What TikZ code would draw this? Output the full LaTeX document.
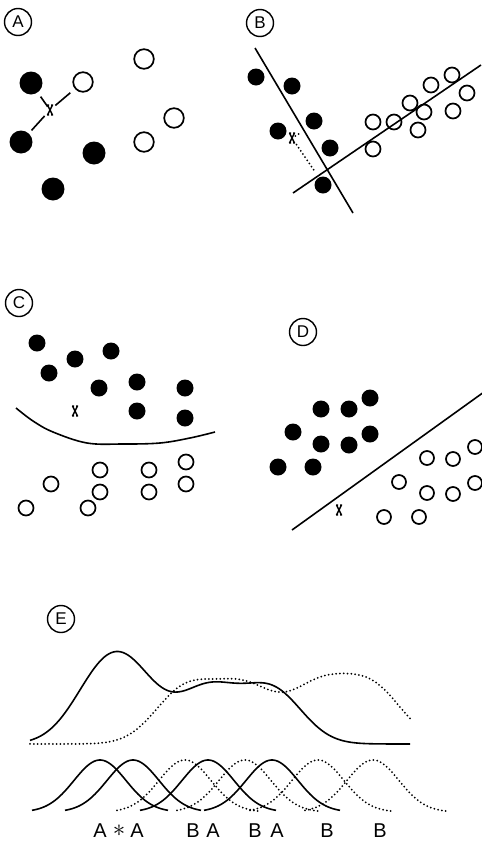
\documentclass[tikz,border=0pt]{standalone}
\usepackage{fontspec}
\setsansfont{Liberation Sans}
\usetikzlibrary{calc}
\tikzset{
  panel/.style={circle, draw, line width=1.4pt, minimum size=27pt, inner sep=0pt,
    font=\sffamily\fontsize{17}{17}\selectfont},
  full/.style={circle, fill, inner sep=0pt, minimum size=#1},
  hollow/.style={circle, draw, line width=1.7pt, inner sep=0pt, minimum size=#1},
  border/.style={line width=1.6pt},
  dotted curve/.style={line width=2pt, line cap=round, dash pattern=on 0pt off 3.8pt},
  klabel/.style={font=\sffamily\fontsize{20}{20}\selectfont, inner sep=0pt},
  testpt/.pic={
    \draw[line width=1.4pt] (-2.5,-5) -- (2.5,5) (2.5,-5) -- (-2.5,5)
      (-3,-5) -- (-1,-5) (1,-5) -- (3,-5) (-3,5) -- (-1,5) (1,5) -- (3,5);
  }
}
\begin{document}
\begin{tikzpicture}[x=1pt, y=-1pt,
  declare function={k(\u,\m)=exp(max(-9,-0.5*((\u-\m)/30)^2));
                    s(\u,\m)=exp(max(-9,-0.5*((\u-\m)/26)^2));}]
    \useasboundingbox (0,0) rectangle (482,841);

    % panel A: nearest neighbours
    \node[panel] (pa) at (18,22) {A};
    \foreach \px/\py [count=\i] in {31/83,21/142,94/153,53/189}
        \node[full=23pt] (af\i) at (\px,\py) {};
    \foreach \px/\py [count=\i] in {83/82,144/59,174/118,144/142}
        \node[hollow=19.6pt] (ah\i) at (\px,\py) {};
    \coordinate (xa) at (50,110);
    \pic at (xa) {testpt};
    \draw[border, shorten <=5pt, shorten >=4pt] (af1) -- (xa);
    \draw[border, shorten <=6pt, shorten >=7pt] (ah1) -- (xa);
    \draw[border, shorten <=4pt, shorten >=8pt] (af2) -- (xa);

    % panel B: two fitted lines
    \node[panel] (pb) at (260,23) {B};
    \foreach \px/\py [count=\i] in {256/77,292/86,314/121,278/131,330/148,323/185}
        \node[full=17pt] (bf\i) at (\px,\py) {};
    \foreach \px/\py [count=\i] in {373/122,373/149,394/122,410/103,424/112,
                                    418/130,431/85,452/75,467/93,453/111}
        \node[hollow=15pt] (bh\i) at (\px,\py) {};
    \coordinate (l1a) at (255,48);
    \coordinate (l1b) at (353,213);
    \coordinate (l2a) at (293,193);
    \coordinate (l2b) at (481,65);
    \draw[border] (l1a) -- (l1b);
    \draw[border] (l2a) -- (l2b);
    \coordinate (xb) at (292,138);
    \pic at (xb) {testpt};
    \coordinate (fb1) at ($(l1a)!(xb)!(l1b)$);
    \coordinate (fb2) at ($(l2a)!(xb)!(l2b)$);
    \draw[dotted curve, shorten <=4pt, shorten >=3pt] (xb) -- (fb1);
    \draw[dotted curve, shorten <=8pt, shorten >=4pt] (xb) -- (fb2);

    % panel C: curved boundary
    \node[panel] (pc) at (19,303) {C};
    \foreach \px/\py [count=\i] in {37/343,49/373,75/359,111/351,99/388,
                                    137/382,137/411,185/388,185/418}
        \node[full=17pt] (cf\i) at (\px,\py) {};
    \foreach \px/\py [count=\i] in {26/508,51/484,88/508,100/492,100/470,
                                    149/470,149/492,186/462,186/484}
        \node[hollow=15pt] (ch\i) at (\px,\py) {};
    \draw[border] plot[smooth, tension=0.6] coordinates
        {(16,408) (33,421) (53,432) (87,443) (123,444) (160,443) (190,438) (215,432)};
    \coordinate (xc) at (75,411);
    \pic at (xc) {testpt};

    % panel D: straight boundary
    \node[panel] (pd) at (303,332) {D};
    \foreach \px/\py [count=\i] in {370/398,321/409,349/409,293/432,321/444,
                                    349/445,370/434,278/467,313/467}
        \node[full=17pt] (df\i) at (\px,\py) {};
    \foreach \px/\py [count=\i] in {399/482,427/458,453/459,475/447,427/493,
                                    453/494,475/483,384/517,419/517}
        \node[hollow=14pt] (dh\i) at (\px,\py) {};
    \coordinate (ld1) at (292,530);
    \coordinate (ld2) at (484,392);
    \draw[border] (ld1) -- (ld2);
    \coordinate (xd) at (339,510);
    \pic at (xd) {testpt};

    % panel E: kernel sums
    \node[panel] (pe) at (61,619) {E};
    \draw[border] plot[domain=30:410, samples=160, smooth]
        (\x, {744-53.5*(k(\x,100)+k(\x,133)+k(\x,208)+k(\x,272))});
    \draw[dotted curve] plot[domain=30:410, samples=160, smooth]
        (\x, {744-53.5*(k(\x,185)+k(\x,245)+k(\x,318)+k(\x,373))});
    % single kernels
    \foreach \c [evaluate=\c as \lo using \c-68, evaluate=\c as \hi using \c+68]
        in {100,133,208,272}
        \draw[border] plot[domain=\lo:\hi, samples=60, smooth] (\x, {812-52*s(\x,\c)});
    \foreach \c [evaluate=\c as \lo using \c-68, evaluate=\c as \hi using \c+74]
        in {185,245,318,373}
        \draw[dotted curve] plot[domain=\lo:\hi, samples=60, smooth] (\x, {812-52*s(\x,\c)});
    \foreach \px/\t [count=\i] in {100/A,119/{\fontsize{26}{26}\selectfont$\ast$},137/A,
                                   193/B,213/A,255/B,277/A,327/B,380/B}
        \node[klabel] (lab\i) at (\px,831) {\t};
\end{tikzpicture}
\end{document}
